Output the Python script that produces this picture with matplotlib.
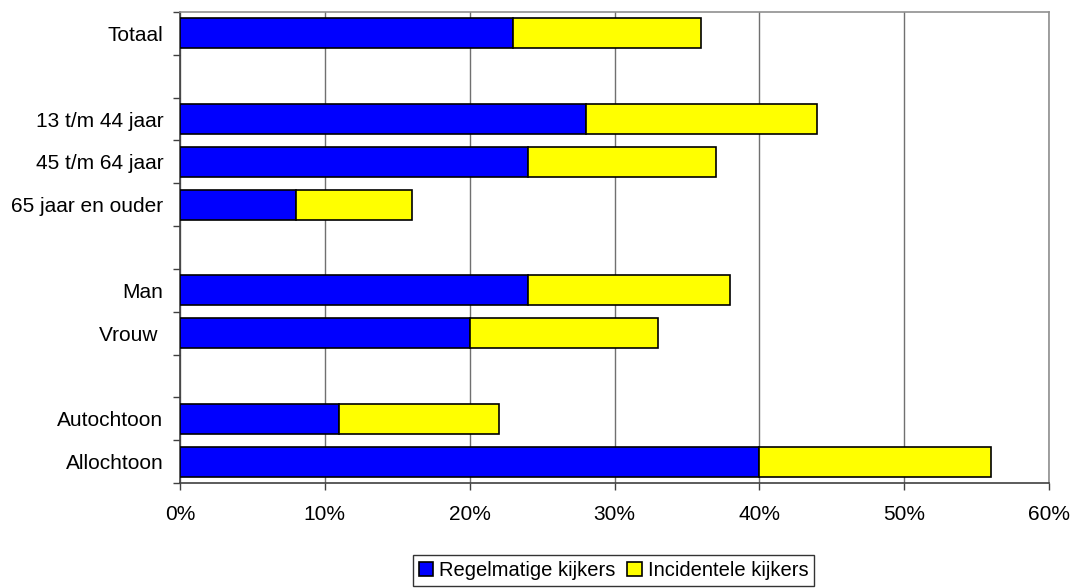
import matplotlib
matplotlib.use("Agg")
import matplotlib.pyplot as plt
from matplotlib.patches import Patch
import numpy as np

plt.rcParams['font.family'] = ['Liberation Sans', 'DejaVu Sans']

# Data (groups separated by an empty slot)
groups = [
    ["Totaal"],
    ["13 t/m 44 jaar", "45 t/m 64 jaar", "65 jaar en ouder"],
    ["Man", "Vrouw "],
    ["Autochtoon", "Allochtoon"],
]
regelmatig = [23, 28, 24, 8, 24, 20, 11, 40]
incidenteel = [13, 16, 13, 8, 14, 13, 11, 16]
series_names = ["Regelmatige kijkers", "Incidentele kijkers"]
xticks_pct = [0, 10, 20, 30, 40, 50, 60]

# build slot positions from group structure
labels, pos = [], []
p = 0
for gi, g in enumerate(groups):
    if gi > 0:
        p += 1
    for lab in g:
        labels.append(lab)
        pos.append(p)
        p += 1
nslots = p
pos = np.array(pos)

fig = plt.figure(figsize=(10.72, 5.88), dpi=100)
ax = fig.add_axes([180/1072, 1-483/588, (1049-180)/1072, (483-12)/588])

blue = '#0000FF'
yellow = '#FFFF00'
ax.barh(pos, regelmatig, height=0.7, color=blue, edgecolor='black', linewidth=1.2, zorder=3)
ax.barh(pos, incidenteel, left=regelmatig, height=0.7, color=yellow, edgecolor='black', linewidth=1.2, zorder=3)

ax.set_xlim(0, 60)
ax.set_ylim(nslots - 0.5, -0.5)

ax.set_xticks(xticks_pct)
ax.set_xticklabels([f"{v}%" for v in xticks_pct], fontsize=15)
ax.xaxis.grid(True, color='#707070', linewidth=1, zorder=0)
ax.set_axisbelow(True)

# major ticks at slot boundaries, labels at slot centers
ax.set_yticks(np.arange(-0.5, nslots, 1.0))
ax.set_yticklabels([])
ax.set_yticks(pos, minor=True)
ax.set_yticklabels(labels, minor=True, fontsize=15)
ax.tick_params(axis='y', which='minor', length=0, pad=12)
ax.tick_params(axis='y', which='major', length=5, width=1, color='#404040', direction='out')
ax.tick_params(axis='x', length=5, width=1, color='#404040', direction='out', pad=11)

for s in ['top', 'right']:
    ax.spines[s].set_color('#909090')
    ax.spines[s].set_linewidth(1.2)
for s in ['left', 'bottom']:
    ax.spines[s].set_color('#404040')
    ax.spines[s].set_linewidth(1.2)

handles = [Patch(facecolor=blue, edgecolor='black', linewidth=1.2),
           Patch(facecolor=yellow, edgecolor='black', linewidth=1.2)]
leg = fig.legend(handles, series_names, loc='upper center', ncol=2,
                 bbox_to_anchor=(613.5/1072, 1-555/588), fontsize=14.5,
                 frameon=True, fancybox=False, edgecolor='black',
                 handlelength=0.7, handleheight=0.7, handletextpad=0.3,
                 columnspacing=0.6, borderpad=0.3, borderaxespad=0)
leg.get_frame().set_linewidth(1.0)

fig.savefig("out.png", dpi=100)
